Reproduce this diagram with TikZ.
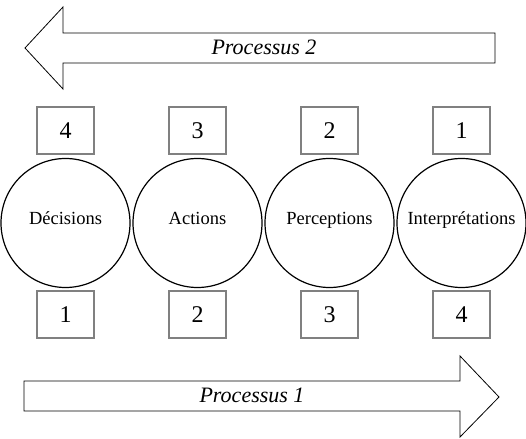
\documentclass[tikz,border=0pt]{standalone}
\usepackage{fontspec}
\setmainfont{Liberation Serif}
\usetikzlibrary{positioning}

\begin{document}
\begin{tikzpicture}[x=1pt,y=1pt,
	etape/.style={draw,circle,line width=1.2pt,minimum size=129pt,inner sep=0pt,
		font=\fontsize{18.5}{20}\selectfont,text height=13pt,text depth=10pt},
	num/.style={draw=gray,line width=1.5pt,minimum width=57pt,minimum height=47pt,
		inner sep=0pt,font=\fontsize{24}{26}\selectfont},
	fleche/.style={draw,line width=0.8pt,line join=miter},
	titre/.style={font=\fontsize{22}{24}\selectfont\itshape}]
\useasboundingbox (0,0) rectangle (526,438);
	% Processus 2 (top arrow)
\draw [fleche] (25,390) -- (63,431) -- (63,405) -- (495,405) -- (495,375) -- (63,375) -- (63,349) -- cycle;
\node [titre] (p2) at (264,391) {Processus 2};

	% Steps
\node [etape] (dec) at (65.5,215) {Décisions};
\node [etape] (act) at (197.5,215) {Actions};
\node [etape] (per) at (329.5,215) {Perceptions};
\node [etape] (int) at (461.5,215) {Interprétations};

	% Order in Processus 2
\node [num, above=3pt of dec] (h4) {4};
\node [num, above=3pt of act] (h3) {3};
\node [num, above=3pt of per] (h2) {2};
\node [num, above=3pt of int] (h1) {1};

	% Order in Processus 1
\node [num, below=2pt of dec] (b1) {1};
\node [num, below=2pt of act] (b2) {2};
\node [num, below=2pt of per] (b3) {3};
\node [num, below=2pt of int] (b4) {4};

	% Processus 1 (bottom arrow)
\draw [fleche] (24,57) -- (460,57) -- (460,82) -- (499,41) -- (460,1) -- (460,27) -- (24,27) -- cycle;
\node [titre] (p1) at (252,43) {Processus 1};
\end{tikzpicture}
\end{document}
